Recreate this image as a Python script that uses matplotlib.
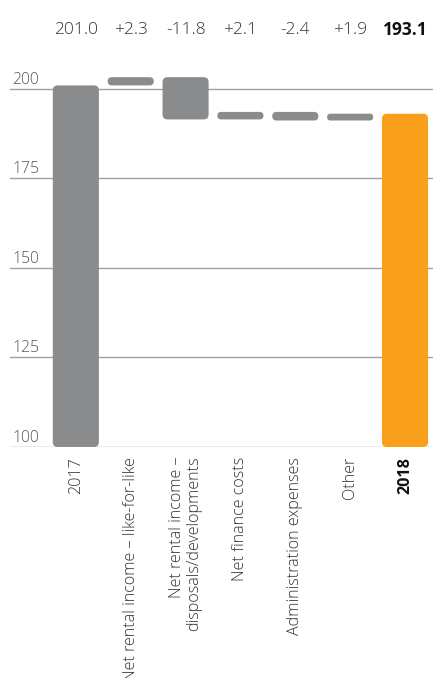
import matplotlib.pyplot as plt
from matplotlib.patches import FancyBboxPatch

plt.rcParams['font.family'] = ['Open Sans', 'DejaVu Sans']

categories = ["2017", "Net rental income – like-for-like",
              "Net rental income –\ndisposals/developments",
              "Net finance costs", "Administration expenses", "Other", "2018"]
values = [201.0, 2.3, -11.8, 2.1, -2.4, 1.9, 193.1]
is_total = [True, False, False, False, False, False, True]
yticks = [100, 125, 150, 175, 200]

GREY = "#8a8b8d"
ORANGE = "#fa9f1c"
TEXT = "#333333"

fig = plt.figure(figsize=(4.33, 6.78), dpi=100)
ax = fig.add_axes([10 / 433, 1 - 447 / 678, 1 - 10 / 433, (447 - 60) / 678])
ax.set_xlim(-1.2, 6.51)
ax.set_ylim(100, 208.1)
ax.axis("off")

# gridlines with labels sitting just above them
for t in yticks:
    ax.axhline(t, color="#a0a0a0", lw=1.0, zorder=1)
    ax.annotate(str(t), xy=(0, t), xycoords=("axes fraction", "data"),
                xytext=(1.5, 1), textcoords="offset points",
                ha="left", va="bottom", fontsize=11.3, color="#555555",
                fontweight="light")

# aspect between x and y data units, for corner rounding
fig.canvas.draw()
p0 = ax.transData.transform((0, 100))
p1 = ax.transData.transform((1, 200))
px_x = p1[0] - p0[0]
px_y = (p1[1] - p0[1]) / 100.0
aspect = px_x / px_y

width = 0.84
radius_px = 5.0
running = 0.0
for i, (v, tot) in enumerate(zip(values, is_total)):
    if tot:
        lo, hi = 100.0, v
        running = v
    else:
        lo, hi = sorted([running, running + v])
        running += v
    h_px = (hi - lo) * px_y
    r = min(radius_px, h_px / 2.0, width * px_x / 2.0) / px_x
    color = ORANGE if i == len(values) - 1 else GREY
    patch = FancyBboxPatch((i - width / 2, lo), width, hi - lo,
                           boxstyle=f"round,pad=0,rounding_size={r}",
                           mutation_aspect=aspect,
                           fc=color, ec="none", zorder=3)
    ax.add_patch(patch)

    last = i == len(values) - 1
    lab = f"{v:.1f}" if tot else f"{v:+.1f}"
    fig.text(ax.transData.transform((i, 0))[0] / 433, 1 - 30 / 678, lab,
             ha="center", va="center", fontsize=12.5,
             color="#111111" if last else TEXT,
             fontweight="bold" if last else "light")

    ax.annotate(categories[i], xy=(i, 100), xycoords="data",
                xytext=(0, -7), textcoords="offset points",
                rotation=90, ha="center", va="top", fontsize=11.6,
                color="#111111" if last else TEXT, linespacing=1.1,
                multialignment="right",
                fontweight="bold" if last else "light",
                annotation_clip=False)

fig.savefig("out.png", dpi=100)
